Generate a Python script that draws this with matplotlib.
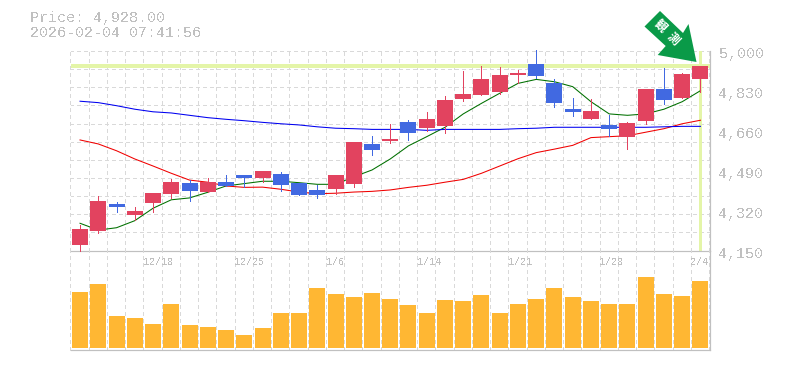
import matplotlib
matplotlib.use("Agg")
import matplotlib.pyplot as plt
from matplotlib.patches import Polygon, Rectangle
from matplotlib.transforms import ScaledTranslation, blended_transform_factory
import numpy as np

W, H = 785, 370
DPI = 100
plt.rcParams['text.antialiased'] = False
MONO = ['Liberation Mono', 'DejaVu Sans Mono']

opens  = [4173,4233,4348,4301,4352,4391,4438,4399,4442,4472,4459,4476,4438,4408,4412,4433,4604,4617,4697,4672,4680,4795,4813,4825,4898,4945,4864,4753,4710,4685,4634,4702,4838,4800,4881]
highs  = [4259,4382,4357,4335,4395,4455,4450,4459,4472,4472,4489,4484,4438,4429,4472,4612,4638,4689,4706,4740,4808,4915,4936,4932,4919,5004,4881,4800,4795,4727,4697,4838,4928,4906,4936]
lows   = [4149,4226,4314,4280,4314,4374,4361,4399,4425,4420,4442,4403,4386,4374,4391,4420,4557,4608,4621,4659,4651,4787,4813,4817,4864,4885,4761,4723,4710,4638,4582,4689,4774,4800,4825]
closes = [4242,4361,4335,4318,4395,4442,4403,4442,4425,4459,4489,4429,4386,4386,4472,4612,4578,4625,4651,4710,4791,4817,4881,4898,4906,4893,4778,4740,4744,4668,4693,4838,4791,4902,4936]
ma_green = [4266,4237,4247,4277,4330,4366,4374,4398,4425,4435,4445,4445,4439,4432,4432,4464,4493,4540,4596,4635,4675,4732,4777,4820,4862,4879,4869,4848,4784,4732,4726,4732,4752,4784,4831]
ma_red   = [4621,4604,4575,4540,4510,4479,4450,4441,4425,4419,4420,4411,4399,4392,4394,4399,4402,4408,4419,4428,4441,4453,4479,4510,4541,4567,4582,4598,4631,4635,4639,4654,4669,4690,4705]
ma_blue  = [4786,4780,4767,4752,4741,4736,4726,4716,4709,4703,4696,4690,4685,4677,4671,4669,4666,4666,4666,4662,4666,4666,4666,4666,4669,4671,4675,4675,4675,4675,4675,4675,4677,4679,4679]
volumes  = [56,64,32,30,24,44,23,21,18,13,20,35,35,60,54,51,55,49,43,35,48,47,53,35,44,49,60,51,47,44,44,71,54,52,67]
date_labels = {4:'12/18', 9:'12/25', 14:'1/6', 19:'1/14', 24:'1/21', 29:'1/28', 34:'2/4'}
price_ticks = [5000,4830,4660,4490,4320,4150]
last_price = 4934
title_lines = ['Price: 4,928.00', '2026-02-04 07:41:56']

GRAY = '#c0c0c0'; GRID = '#d9d9d9'
UP = '#e2435f'; DOWN = '#4169e1'; MARK = '#e4f5a8'; BAR = '#ffb733'
px = 72 / DPI

fig = plt.figure(figsize=(W / DPI, H / DPI), dpi=DPI, facecolor='white')
L, R = 70.9, 709.6
def axes_px(x0, x1, ytop, ybot):
    return fig.add_axes([x0 / W, (H - ybot) / H, (x1 - x0) / W, (ybot - ytop) / H])

ax = axes_px(L, R, 51, 250.5)
av = axes_px(L, R, 250.5, 350)
n = len(opens)
xs = np.arange(n)
edges = np.arange(n + 1) - 0.53
dash = dict(color=GRID, lw=1.0 * px, dashes=(3, 3), antialiased=False, zorder=0)

# price panel
ax.set_xlim(-0.5, n - 0.5)
ax.set_ylim(4150, 5000)
ax.patch.set_alpha(0)
for e in edges:
    ax.axvline(e, clip_on=False, **dash)
for g in np.linspace(4150, 5000, 12)[1:]:
    ax.axhline(g, xmin=-0.001, **dash)
ax.axhline(last_price, color=MARK, lw=3.6 * px, zorder=1, antialiased=False)
ax.plot([n - 1, n - 1], [4150, 5000], color=MARK, lw=3.0 * px, zorder=1, clip_on=False,
        solid_capstyle='butt', antialiased=False)
for s, c in ((ma_green, '#007000'), (ma_red, '#f00000'), (ma_blue, '#0000f0')):
    ax.plot(xs, s, color=c, lw=1.05 * px, zorder=2, antialiased=True)
body_w = 16 / ((R - L) / n)
for i in range(n):
    col = UP if closes[i] >= opens[i] else DOWN
    ax.plot([i, i], [lows[i], highs[i]], color=col, lw=1.0 * px, zorder=3, clip_on=False,
            solid_capstyle='butt', antialiased=False)
    ax.add_patch(Rectangle((i - body_w / 2, min(opens[i], closes[i])), body_w,
                           abs(closes[i] - opens[i]), fc=col, ec='none', zorder=4, antialiased=False))
for s in ('top', 'left'):
    ax.spines[s].set_visible(False)
ax.spines['bottom'].set_color(GRAY); ax.spines['right'].set_color(GRAY)
ax.spines['bottom'].set_linewidth(1.2 * px); ax.spines['right'].set_linewidth(1.2 * px)
ax.set_xticks([])
ax.yaxis.tick_right()
ax.set_yticks(price_ticks)
ax.set_yticklabels([f'{p:,}' for p in price_ticks], family=MONO, fontsize=15 * px, color=GRAY)
ax.tick_params(axis='y', length=0, pad=9.0 * px)
offset = ScaledTranslation(0, -2 / DPI, fig.dpi_scale_trans)
for lb in ax.get_yticklabels():
    lb.set_transform(lb.get_transform() + offset)

# volume panel
av.set_xlim(-0.5, n - 0.5)
av.set_ylim(-2, 97.5)
av.patch.set_alpha(0)
for e in edges:
    av.axvline(e, clip_on=False, **dash)
av.bar(xs, volumes, width=body_w, color=BAR, zorder=2, antialiased=False)
for s in ('top', 'left'):
    av.spines[s].set_visible(False)
av.spines['bottom'].set_color(GRAY); av.spines['right'].set_color(GRAY)
av.spines['bottom'].set_linewidth(1.2 * px); av.spines['right'].set_linewidth(1.2 * px)
av.set_xticks([]); av.set_yticks([])
trans = blended_transform_factory(av.transData, fig.transFigure)
for i, t in date_labels.items():
    av.text(i - 0.53, 1 - 262 / H, t, transform=trans, family=MONO, fontsize=10 * px,
            color=GRAY, ha='left', va='center', zorder=5)

# header
for t, y in zip(title_lines, (18, 33)):
    fig.text(29.5 / W, 1 - y / H, t, family=MONO, fontsize=15 * px, color=GRAY, ha='left', va='center')

# arrow badge
pts = [(660, 11), (683, 33), (688.5, 24), (696.5, 62), (657.7, 55), (665.7, 46), (644.5, 26.5)]
fig.add_artist(Polygon([(x / W, 1 - y / H) for x, y in pts], closed=True, transform=fig.transFigure,
                       fc='#0a9a48', ec='none', zorder=10))
for t, (x, y) in zip('観測', ((660, 26), (673, 39))):
    txt = fig.text(x / W, 1 - y / H, t, family=['Noto Sans CJK JP', 'DejaVu Sans'], fontsize=12 * px,
                   color='white', weight='bold', rotation=-45, ha='center', va='center',
                   rotation_mode='anchor', zorder=11)
    txt.set_antialiased(True)

fig.savefig('out.png', dpi=DPI)
